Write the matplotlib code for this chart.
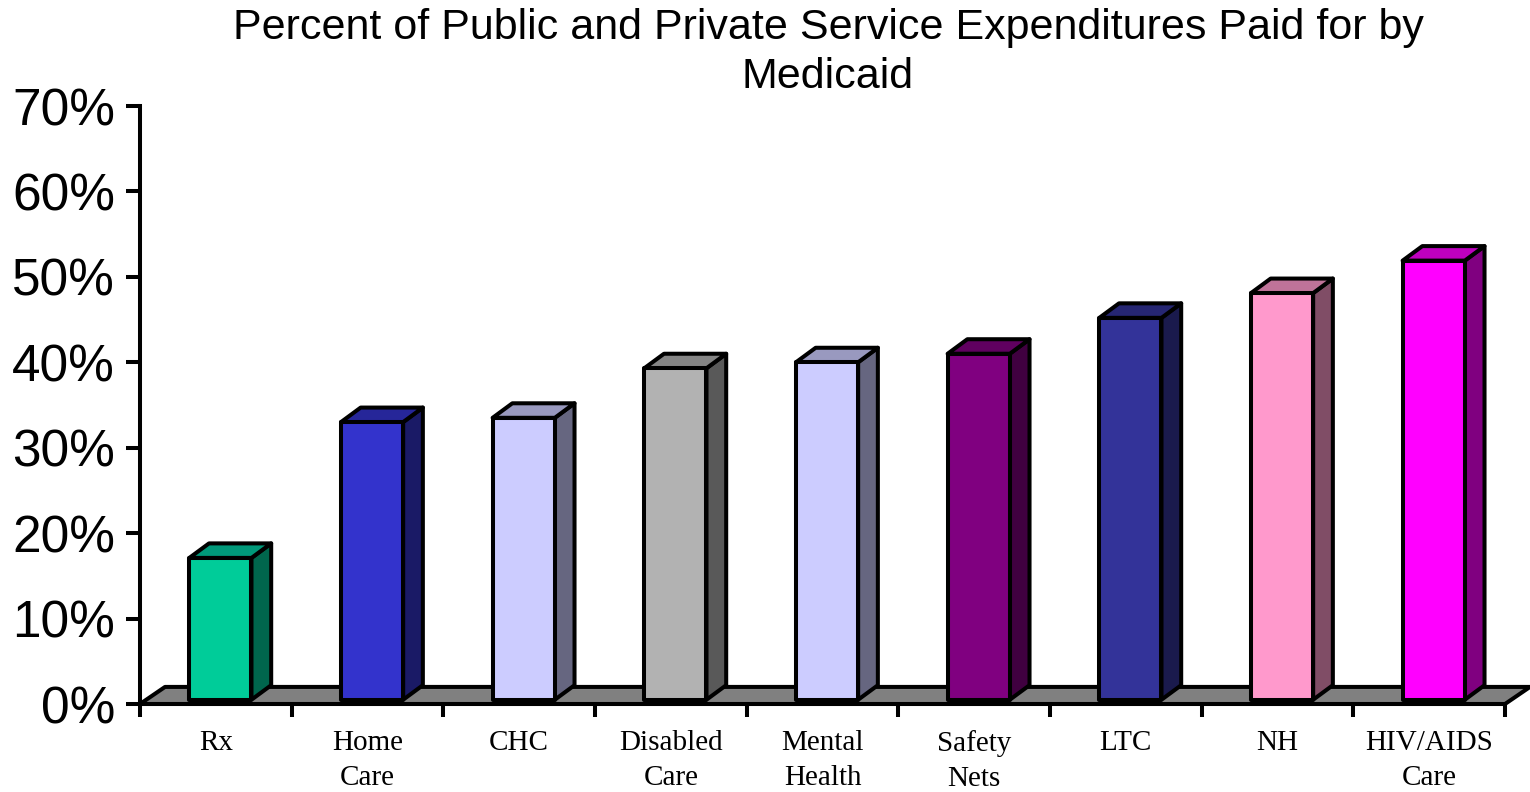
import matplotlib
matplotlib.use("Agg")
import matplotlib.pyplot as plt
from matplotlib.patches import Polygon
from matplotlib.ticker import FuncFormatter

# share of spending paid by Medicaid, percent
categories = ["Rx", "Home\nCare", "CHC", "Disabled\nCare", "Mental\nHealth",
              "Safety\nNets", "LTC", "NH", "HIV/AIDS\nCare"]
values = [17.1, 33.0, 33.5, 39.3, 40.0, 41.0, 45.2, 48.1, 51.9]

# front / side / top shades for each column
front_colors = ["#00CC99", "#3333CC", "#CCCCFF", "#B2B2B2", "#CCCCFF",
                "#800080", "#333399", "#FF99CC", "#FF00FF"]
side_colors = ["#00664D", "#1A1A66", "#666680", "#595959", "#666680",
               "#400040", "#1A1A4D", "#804D66", "#800080"]
top_colors = ["#00997A", "#262699", "#9999BF", "#858585", "#9999BF",
              "#600060", "#262673", "#BF7399", "#BF00BF"]

W, H = 1530, 792
fig = plt.figure(figsize=(W / 100, H / 100), dpi=100)
ax = fig.add_axes([140 / W, (H - 704) / H, (1505 - 140) / W, (704 - 106) / H])
ax.set_xlim(0, 9)
ax.set_ylim(0, 70)

lw = 2.9
# floor depth and column depth, in data units
fdx, fdy = 0.165, 2.0
bdx, bdy = 0.13, 1.7
bw = 0.41
base, shift = 0.5, 0.03

floor = Polygon([(0, 0), (9, 0), (9 + fdx, fdy), (fdx, fdy)], closed=True,
                facecolor="#808080", edgecolor="black", lw=lw,
                joinstyle="round", clip_on=False, zorder=1)
ax.add_patch(floor)

for i, v in enumerate(values):
    x0 = i + 0.5 - bw / 2 + shift
    x1 = x0 + bw
    side = [(x1, base), (x1 + bdx, base + bdy), (x1 + bdx, v + bdy), (x1, v)]
    top = [(x0, v), (x0 + bdx, v + bdy), (x1 + bdx, v + bdy), (x1, v)]
    front = [(x0, base), (x1, base), (x1, v), (x0, v)]
    for pts, c in [(side, side_colors[i]), (top, top_colors[i]), (front, front_colors[i])]:
        ax.add_patch(Polygon(pts, closed=True, facecolor=c, edgecolor="black",
                             lw=lw, joinstyle="round", clip_on=False, zorder=3))

for s in ["top", "right"]:
    ax.spines[s].set_visible(False)
for s in ["left", "bottom"]:
    ax.spines[s].set_linewidth(lw)
    ax.spines[s].set_zorder(2)

ax.set_yticks(range(0, 71, 10))
ax.yaxis.set_major_formatter(FuncFormatter(lambda y, _: f"{y:.0f}%"))
ax.tick_params(axis="y", direction="out", length=10, width=lw, pad=8,
               labelsize=37)
for t in ax.get_yticklabels():
    t.set_fontfamily("Liberation Sans")

ax.set_xticks(range(0, 10))
ax.set_xticklabels([])
ax.tick_params(axis="x", direction="out", length=9, width=lw)

for i, name in enumerate(categories):
    ax.text(i + 0.5, -3.0, name, ha="center", va="top", fontsize=21,
            family="Liberation Serif", linespacing=1.45)

fig.text(828 / W, 1 - 8 / H,
         "Percent of Public and Private Service Expenditures Paid for by\nMedicaid",
         ha="center", va="top", fontsize=31, family="Liberation Sans",
         linespacing=1.3)

fig.savefig("out.png", dpi=100)
